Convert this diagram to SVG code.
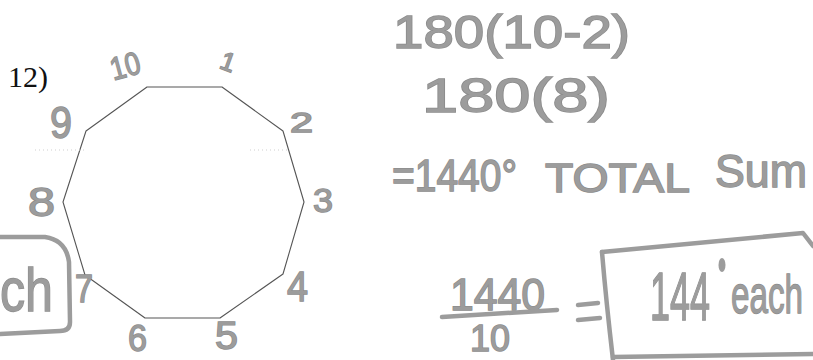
<svg xmlns="http://www.w3.org/2000/svg" width="813" height="360" viewBox="0 0 813 360">
<style>
.hw{font-family:"Liberation Sans","DejaVu Sans",sans-serif;fill:#9c9c9c;stroke:#8c8c8c;stroke-width:1.4;paint-order:stroke}
.hl{fill:none;stroke:#9c9c9c;stroke-width:4.5;stroke-linecap:round;stroke-linejoin:round}
.fd{fill:none;stroke:#cfcfcf;stroke-width:1;stroke-dasharray:1 3}
</style>
<rect width="813" height="360" fill="#fff"/>
<g id="problem-number">
<text x="8" y="87" font-family="'Liberation Serif',serif" font-size="30" fill="#111">12)</text>
</g>
<g id="decagon">
<polygon points="147,87 222,87 283,131 304,202 283,274 220,318 145,318 85,275 63,202 86,131" fill="none" stroke="#555" stroke-width="1.1" stroke-linejoin="round"/>
<line class="fd" x1="35" y1="150" x2="85" y2="150"/>
<line class="fd" x1="250" y1="150" x2="287" y2="150"/>
</g>
<g id="vertex-labels">
<text class="hw" x="110" y="77" font-size="32" textLength="30" lengthAdjust="spacingAndGlyphs" transform="rotate(-15 125 65)">10</text>
<text class="hw" x="221" y="70" font-size="26" transform="rotate(20 226 61)">1</text>
<text class="hw" x="290" y="132" font-size="28" textLength="23" lengthAdjust="spacingAndGlyphs">2</text>
<text class="hw" x="313" y="212" font-size="34" textLength="20" lengthAdjust="spacingAndGlyphs">3</text>
<text class="hw" x="287" y="301" font-size="42" textLength="21" lengthAdjust="spacingAndGlyphs">4</text>
<text class="hw" x="215" y="349" font-size="38" textLength="23" lengthAdjust="spacingAndGlyphs">5</text>
<text class="hw" x="128" y="351" font-size="36" textLength="19" lengthAdjust="spacingAndGlyphs">6</text>
<text class="hw" x="75" y="302" font-size="38" textLength="18" lengthAdjust="spacingAndGlyphs">7</text>
<text class="hw" x="28" y="216" font-size="40" textLength="27" lengthAdjust="spacingAndGlyphs">8</text>
<text class="hw" x="50" y="138" font-size="44" textLength="22" lengthAdjust="spacingAndGlyphs">9</text>
</g>
<g id="each-note">
<path class="hl" d="M0,237 L45,237 Q66,240 69,262 L70,322 Q70,331 60,331 L0,334"/>
<text class="hw" x="0" y="311" font-size="62" textLength="53" lengthAdjust="spacingAndGlyphs">ch</text>
</g>
<g id="work">
<text class="hw" x="393" y="48" font-size="46" textLength="237" lengthAdjust="spacingAndGlyphs">180(10-2)</text>
<text class="hw" x="422" y="112" font-size="48" textLength="188" lengthAdjust="spacingAndGlyphs">180(8)</text>
<text class="hw" x="392" y="191" font-size="44" textLength="125" lengthAdjust="spacingAndGlyphs">=1440°</text>
<text class="hw" x="545" y="192" font-size="40" textLength="145" lengthAdjust="spacingAndGlyphs">TOTAL</text>
<text class="hw" x="715" y="187" font-size="46" textLength="92" lengthAdjust="spacingAndGlyphs">Sum</text>
<text class="hw" x="450" y="310" font-size="44" textLength="95" lengthAdjust="spacingAndGlyphs">1440</text>
<path class="hl" d="M442,317 L557,310"/>
<text class="hw" x="470" y="351" font-size="36" textLength="40" lengthAdjust="spacingAndGlyphs">10</text>
<path class="hl" d="M578,305 L598,303 M578,320 L600,318"/>
</g>
<g id="answer-box">
<path class="hl" d="M602,252 L803,233 L813,246"/>
<path class="hl" d="M602,252 Q606,300 613,360"/>
<path class="hl" d="M613,357 L813,354"/>
<text class="hw" x="650" y="320" font-size="68" textLength="60" lengthAdjust="spacingAndGlyphs">144</text>
<ellipse cx="722" cy="265" rx="3.5" ry="7" fill="#9c9c9c"/>
<text class="hw" x="731" y="313" font-size="54" textLength="72" lengthAdjust="spacingAndGlyphs">each</text>
</g>
</svg>
